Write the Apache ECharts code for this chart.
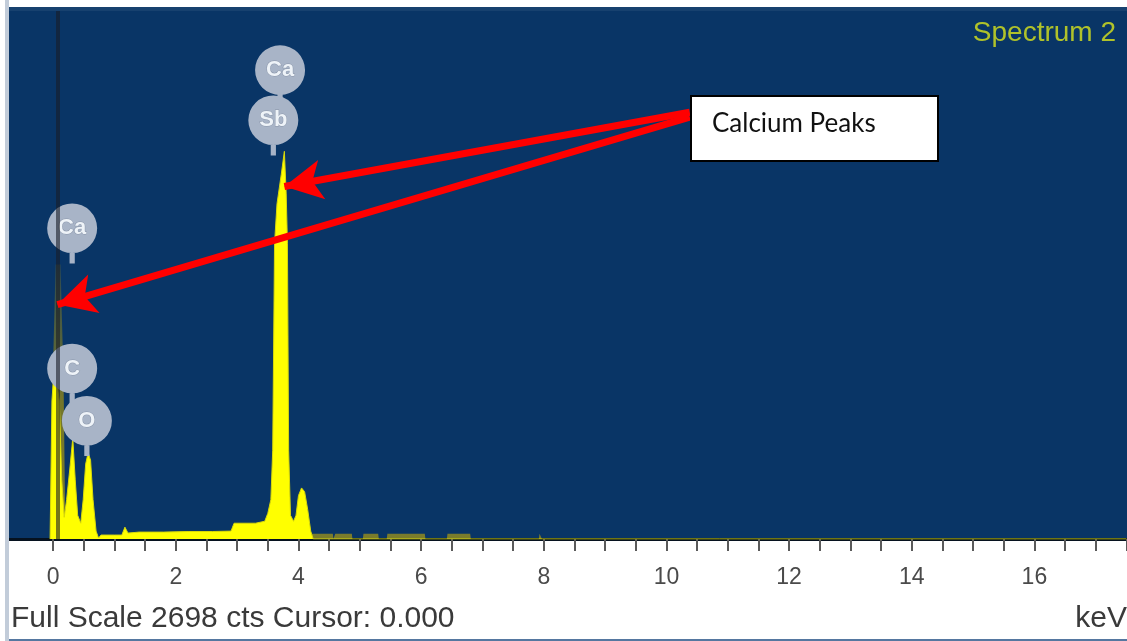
<!DOCTYPE html>
<html>
<head>
<meta charset="utf-8">
<script src="https://cdn.jsdelivr.net/npm/echarts@6/dist/echarts.min.js"></script>
<style>
  html, body { margin: 0; padding: 0; background: #fff; }
  #chart { width: 1127px; height: 641px; }
</style>
</head>
<body>
<div id="chart"></div>
<script>
// spectrum (keV, counts)
const energyMain = [-0.05, -0.02, 0.00, 0.06, 0.10, 0.14, 0.18, 0.22, 0.27, 0.32, 0.36, 0.40, 0.45, 0.49, 0.53, 0.57, 0.61, 0.65, 0.70, 0.74, 0.78, 1.00, 1.12, 1.17, 1.22, 1.40, 1.80, 2.20, 2.60, 2.90, 2.95, 3.30, 3.45, 3.50, 3.55, 3.58, 3.61, 3.65, 3.72, 3.77, 3.80, 3.82, 3.84, 3.87, 3.92, 3.96, 4.00, 4.05, 4.10, 4.15, 4.20, 4.24, 17.5];
const countsMain = [0, 700, 792, 792, 700, 300, 110, 200, 350, 512, 300, 120, 80, 200, 380, 437, 400, 200, 40, 5, 20, 20, 20, 60, 30, 35, 35, 38, 38, 40, 80, 80, 90, 130, 200, 450, 1500, 1700, 1850, 1966, 1750, 1500, 450, 120, 90, 120, 220, 259, 240, 150, 40, 0, 0];

// dim (olive) trace behind the main one
const energyDim = [-0.05, 0.00, 0.04, 0.12, 0.17, 0.20, 4.20, 4.22, 4.56, 4.57, 4.60, 4.87, 4.88, 5.05, 5.06, 5.30, 5.31, 5.44, 5.45, 6.06, 6.07, 6.42, 6.43, 6.80, 6.81, 7.92, 7.93, 7.96, 7.97, 17.5];
const countsDim = [0, 900, 1392, 1392, 800, 0, 0, 26, 26, 0, 26, 26, 0, 0, 26, 26, 0, 0, 26, 26, 0, 0, 26, 26, 0, 0, 26, 26, 0, 0];

// element markers
const elementNames = ["Ca", "C", "O", "Ca", "Sb"];
const elementEnergy = [0.31, 0.31, 0.55, 3.70, 3.59];
const elementCounts = [1575, 864, 599, 2377, 2123];

const tickLabels = [0, 2, 4, 6, 8, 10, 12, 14, 16];
const tickValues = [0, 0.5, 1, 1.5, 2, 2.5, 3, 3.5, 4, 4.5, 5, 5.5, 6, 6.5, 7, 7.5, 8, 8.5, 9, 9.5, 10, 10.5, 11, 11.5, 12, 12.5, 13, 13.5, 14, 14.5, 15, 15.5, 16, 16.5, 17, 17.5];

const fullScale = 2698;
const cursorKeV = 0.08;

// arrows: [start, tip] in keV / counts
const arrowLines = [
  [[10.38, 2164], [3.77, 1788]],
  [[10.38, 2139], [0.07, 1189]]
];

const pairs = (xs, ys) => xs.map((x, i) => [x, ys[i]]);

const badgePath = "path://M24,0 A24,24 0 1,1 23.99,0 Z M21.5,46 L26.5,46 L26.5,58 L21.5,58 Z";

const chart = echarts.init(document.getElementById("chart"));

const option = {
  animation: false,
  backgroundColor: "#ffffff",
  grid: {
    left: 9,
    right: 0,
    top: 7,
    bottom: 102,
    show: true,
    backgroundColor: "#093566",
    borderWidth: 0,
  },
  title: {
    text: "Spectrum 2",
    right: 6,
    top: 14,
    textStyle: {
      color: "#b0c22a",
      fontFamily: "Liberation Sans",
      fontWeight: "normal",
      fontSize: 28,
    },
  },
  xAxis: {
    type: "value",
    min: -0.72,
    max: 17.51,
    splitLine: { show: false },
    axisLine: {
      show: true,
      onZero: false,
      lineStyle: { color: "#06121f", width: 3 },
    },
    axisTick: {
      show: true,
      customValues: tickValues,
      length: 12,
      lineStyle: { color: "#5a5a5a", width: 2 },
    },
    axisLabel: {
      customValues: tickLabels,
      margin: 27,
      color: "#4a4a4a",
      fontFamily: "Liberation Sans",
      fontSize: 23,
    },
  },
  yAxis: {
    type: "value",
    min: 0,
    max: fullScale,
    show: false,
    splitLine: { show: false },
  },
  series: [
    {
      name: "dim",
      type: "line",
      data: pairs(energyDim, countsDim),
      showSymbol: false,
      z: 1,
      lineStyle: { width: 0 },
      areaStyle: {
        opacity: 1,
        color: new echarts.graphic.LinearGradient(0, 0, 0, 1, [
          { offset: 0, color: "#2c4850" },
          { offset: 0.5, color: "#74762a" },
          { offset: 1, color: "#7a7c2c" },
        ]),
      },
    },
    {
      name: "spectrum",
      type: "line",
      data: pairs(energyMain, countsMain),
      showSymbol: false,
      z: 2,
      lineStyle: { color: "#d8d80a", width: 1 },
      areaStyle: { color: "#ffff00", opacity: 1 },
    },
    {
      name: "elements",
      type: "scatter",
      z: 3,
      data: elementNames.map((n, i) => ({ name: n, value: [elementEnergy[i], elementCounts[i]] })),
      symbol: badgePath,
      symbolSize: [50, 60],
      symbolOffset: [0, 5],
      itemStyle: { color: "#a8b4c7", opacity: 1 },
      label: {
        show: true,
        position: "inside",
        offset: [0, -5],
        formatter: (p) => p.name,
        color: "#eef3f8",
        fontFamily: "Liberation Sans",
        fontWeight: "bold",
        fontSize: 22,
        textBorderColor: "#8a96aa",
        textBorderWidth: 1,
      },
    },
    {
      name: "cursor",
      type: "line",
      data: [],
      z: 4,
      markLine: {
        silent: true,
        symbol: ["none", "none"],
        label: { show: false },
        lineStyle: { color: "rgba(25,28,38,0.6)", width: 4, type: "solid" },
        data: [{ xAxis: cursorKeV }],
      },
    },
    {
      name: "arrows",
      type: "line",
      data: [],
      z: 5,
      markLine: {
        silent: true,
        symbol: ["none", "arrow"],
        symbolSize: [30, 38],
        label: { show: false },
        lineStyle: { color: "#ff0000", width: 7, type: "solid", opacity: 1 },
        data: arrowLines.map((a) => [{ coord: a[0] }, { coord: a[1] }]),
      },
    },
  ],
  graphic: [
    { type: "rect", left: 5, top: 0, shape: { width: 4, height: 641 }, style: { fill: "#c2ccd9" }, z: 10 },
    { type: "rect", left: 9, top: 7, shape: { width: 1118, height: 4 }, style: { fill: "#17416f" }, z: 10 },
    { type: "rect", left: 9, top: 639, shape: { width: 1118, height: 2 }, style: { fill: "#5577a0" }, z: 10 },
    {
      type: "rect",
      left: 690,
      top: 95,
      shape: { width: 247, height: 65 },
      style: { fill: "#ffffff", stroke: "#000000", lineWidth: 2 },
      z: 20,
    },
    {
      type: "text",
      left: 712,
      top: 111,
      style: { text: "Calcium Peaks", fill: "#111", font: "26px Lato" },
      z: 21,
    },
    {
      type: "text",
      left: 11,
      top: 604,
      style: { text: "Full Scale " + fullScale + " cts Cursor: 0.000", fill: "#3a3a3a", font: "30px 'Liberation Sans'" },
      z: 10,
    },
    {
      type: "text",
      right: 0,
      top: 604,
      style: { text: "keV", fill: "#3a3a3a", font: "30px 'Liberation Sans'" },
      z: 10,
    },
  ],
};

chart.setOption(option);
</script>
</body>
</html>
